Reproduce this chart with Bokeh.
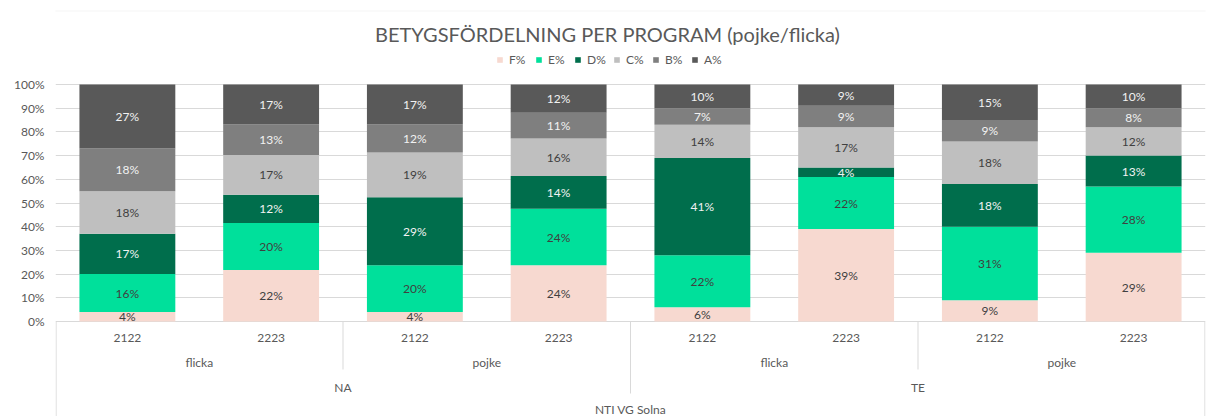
from bokeh.plotting import figure
from bokeh.models import (Range1d, FixedTicker, ColumnDataSource, Legend, LegendItem,
                          BoxAnnotation, NumeralTickFormatter)
from bokeh.core.properties import value
from bokeh.embed import file_html
from bokeh.resources import INLINE

# ---------------- data ----------------
title = "BETYGSFÖRDELNING PER PROGRAM (pojke/flicka)"
school = "NTI VG Solna"
programs = ["NA", "TE"]
genders = ["flicka", "pojke"]
years = ["2122", "2223"]
grades = ["F%", "E%", "D%", "C%", "B%", "A%"]

F = [4, 22, 4, 24, 6, 39, 9, 29]
E = [16, 20, 20, 24, 22, 22, 31, 28]
D = [17, 12, 29, 14, 41, 4, 18, 13]
C = [18, 17, 19, 16, 14, 17, 18, 12]
B = [18, 13, 12, 11, 7, 9, 9, 8]
A = [27, 17, 17, 12, 10, 9, 15, 10]
ticks = [0, 0.1, 0.2, 0.3, 0.4, 0.5, 0.6, 0.7, 0.8, 0.9, 1.0]

# ---------------- style ----------------
colors = ["#F7D9D0", "#00E09B", "#006E4C", "#BFBFBF", "#7F7F7F", "#595959"]
label_colors = ["#404040", "#404040", "#F2F2F2", "#404040", "#F2F2F2", "#F2F2F2"]
FONT = "Lato"
TXT = "#595959"
LINE = "#D9D9D9"

W, H = 1214, 416
ML, MR = 55, 9
PX_PER_UNIT = 237.0            # pixels per 100 %
TOP_PX, BOT_PX = 84.0, 95.0    # space above 100 % / below 0 % inside the frame
y0 = -BOT_PX / PX_PER_UNIT
y1 = 1 + TOP_PX / PX_PER_UNIT

def py(px_below_zero):
    return -px_below_zero / PX_PER_UNIT

n = len(F)
xw = (W - ML - MR) / n  # pixels per category

# categories (school > program > gender > year)
cats = [(school, pr, g, yr) for pr in programs for g in genders for yr in years]
xs = [i + 0.5 for i in range(n)]

series = [F, E, D, C, B, A]
totals = [sum(s[i] for s in series) for i in range(n)]
shares = {g: [s[i] / totals[i] for i in range(n)] for g, s in zip(grades, series)}

src = ColumnDataSource(dict(x=xs, **shares))

p = figure(width=W, height=H, x_range=Range1d(0, n), y_range=Range1d(y0, y1),
           output_backend="svg", toolbar_location=None, x_axis_location=None,
           min_border_left=ML, min_border_right=MR, min_border_top=0, min_border_bottom=0,
           outline_line_color=None, background_fill_color="white", border_fill_color="white")

# y axis
p.yaxis.ticker = FixedTicker(ticks=ticks)
p.yaxis.formatter = NumeralTickFormatter(format="0%")
p.yaxis.axis_line_color = None
p.yaxis.major_tick_line_color = None
p.yaxis.minor_tick_line_color = None
p.yaxis.major_tick_out = 0
p.yaxis.major_label_standoff = 11
p.yaxis.major_label_text_font = FONT
p.yaxis.major_label_text_font_size = "12px"
p.yaxis.major_label_text_color = TXT

p.xgrid.grid_line_color = None
p.ygrid.ticker = FixedTicker(ticks=ticks)
p.ygrid.grid_line_color = LINE
p.ygrid.grid_line_width = 1

# bars
rs = p.vbar_stack(grades, x="x", width=0.667, color=colors, source=src, line_color=None)

# data labels
lx, ly, lt, lc = [], [], [], []
for gi, (g, s) in enumerate(zip(grades, series)):
    for i in range(n):
        bottom = sum(shares[grades[k]][i] for k in range(gi))
        lx.append(xs[i])
        ly.append(bottom + shares[g][i] / 2)
        lt.append(f"{s[i]}%")
        lc.append(label_colors[gi])
p.text(x=lx, y=ly, text=lt, text_color=lc, text_align="center", text_baseline="middle",
       text_font=value(FONT), text_font_size="12px")

# category axis labels
lvl_y = [py(16), py(41), py(66), py(88)]
p.text(x=xs, y=[lvl_y[0]] * n, text=[c[3] for c in cats], text_color=TXT,
       text_align="center", text_baseline="middle", text_font=value(FONT), text_font_size="12px")
gx = [2 * j + 1 for j in range(n // 2)]
p.text(x=gx, y=[lvl_y[1]] * len(gx), text=[cats[2 * j][2] for j in range(n // 2)], text_color=TXT,
       text_align="center", text_baseline="middle", text_font=value(FONT), text_font_size="12px")
prx = [4 * j + 2 for j in range(n // 4)]
p.text(x=prx, y=[lvl_y[2]] * len(prx), text=[cats[4 * j][1] for j in range(n // 4)], text_color=TXT,
       text_align="center", text_baseline="middle", text_font=value(FONT), text_font_size="12px")
p.text(x=[n / 2], y=[lvl_y[3]], text=[school], text_color=TXT,
       text_align="center", text_baseline="middle", text_font=value(FONT), text_font_size="12px")

# separators of the category axis
sx = [0.004, n - 0.004, 2, 6, 4]
sy1 = [py(200), py(200), py(48), py(48), py(72)]
p.segment(x0=sx, y0=[0] * len(sx), x1=sx, y1=sy1, line_color=LINE, line_width=1)

# title
p.text(x=[(607 - ML) / xw], y=[1 + 51 / PX_PER_UNIT], text=[title], text_color=TXT,
       text_align="center", text_baseline="middle", text_font=value(FONT), text_font_size="20px")

# legend
legend = Legend(items=[LegendItem(label=g, renderers=[r]) for g, r in zip(grades, rs)],
                orientation="horizontal", location=(441, 349),
                glyph_width=7, glyph_height=7, label_standoff=6, label_width=19, spacing=7,
                padding=0, margin=0, border_line_color=None, background_fill_alpha=0,
                label_text_font=FONT, label_text_font_size="12px", label_text_color=TXT)
p.add_layout(legend)

# chart border
p.add_layout(BoxAnnotation(left=6.5, right=3000, top=10.5, bottom=3000,
                           left_units="canvas", right_units="canvas",
                           top_units="canvas", bottom_units="canvas",
                           fill_color=None, line_color=LINE, line_width=1))

open("out.html", "w").write(file_html(p, INLINE))
